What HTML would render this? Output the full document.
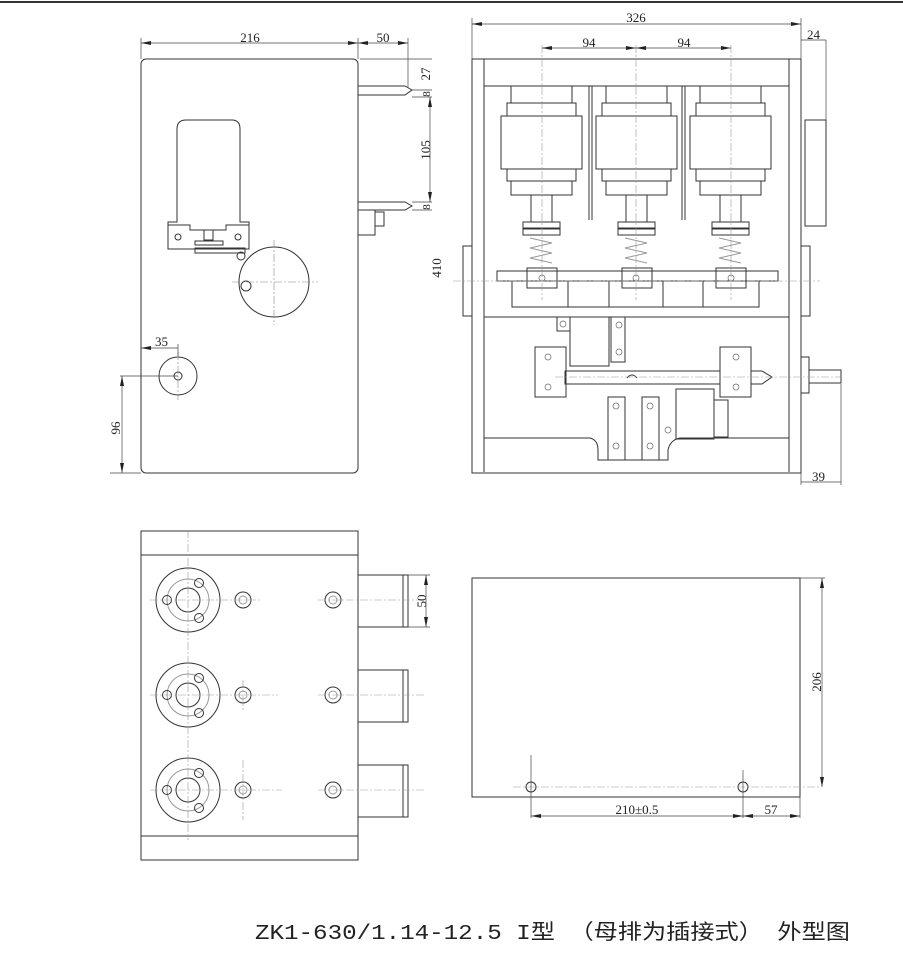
<!DOCTYPE html>
<html><head><meta charset="utf-8"><style>
html,body{margin:0;padding:0;background:#fff;}
svg{display:block;}
text{font-family:"Liberation Serif","Noto Serif CJK SC",serif;fill:#222;}
</style></head><body>
<svg width="903" height="959" viewBox="0 0 903 959" xmlns="http://www.w3.org/2000/svg">
<defs>
<marker id="a" viewBox="0 0 10 4" refX="10" refY="2" markerWidth="10" markerHeight="4" orient="auto-start-reverse" markerUnits="userSpaceOnUse"><path d="M0,0L10,2L0,4z" fill="#222"/></marker>
</defs>
<line x1="0" y1="2" x2="903" y2="2" stroke="#333" stroke-width="2"/>
<g fill="none" stroke="#333" stroke-width="1">
<rect x="141" y="59" width="217" height="414" rx="5"/>
<path d="M358,86H405L412,90L405,95H358"/>
<path d="M358,202H405L412,206L405,210H358"/>
<rect x="358" y="210" width="17" height="25"/>
<rect x="375" y="212" width="9" height="14"/>
<path d="M177,222V129Q177,120 186,120H232Q240,120 240,129V222H249V249H168V222Z"/>
<path d="M168,225H190V230H226V225H249"/>
<circle cx="178" cy="237" r="3"/><circle cx="238" cy="237" r="3"/>
<rect x="204" y="230" width="9" height="10"/>
<rect x="195" y="241" width="28" height="4"/>
<rect x="195" y="248" width="50" height="5"/>
<circle cx="241" cy="256" r="4"/>
<circle cx="274" cy="282" r="35"/>
<circle cx="246" cy="286" r="5"/>
<circle cx="178" cy="376" r="19"/>
<circle cx="178" cy="376" r="4"/>
</g>
<g fill="none" stroke="#888" stroke-width="0.6" stroke-dasharray="8,2,2,2">
<line x1="274" y1="240" x2="274" y2="325"/><line x1="232" y1="282" x2="318" y2="282"/>
<line x1="178" y1="352" x2="178" y2="400"/>
</g>
<g stroke="#444" stroke-width="0.7" fill="none">
<line x1="141" y1="43" x2="358" y2="43" marker-start="url(#a)" marker-end="url(#a)"/>
<line x1="358" y1="43" x2="408" y2="43" marker-start="url(#a)" marker-end="url(#a)"/>
<line x1="141" y1="38" x2="141" y2="59"/><line x1="358" y1="38" x2="358" y2="59"/><line x1="408" y1="38" x2="408" y2="88"/>
<line x1="360" y1="59" x2="432" y2="59"/>
<line x1="412" y1="90" x2="432" y2="90"/><line x1="412" y1="97" x2="432" y2="97"/>
<line x1="412" y1="202" x2="432" y2="202"/><line x1="412" y1="210" x2="432" y2="210"/>
<line x1="430" y1="97" x2="430" y2="202" marker-start="url(#a)" marker-end="url(#a)"/>
<line x1="141" y1="348" x2="178" y2="348" marker-start="url(#a)"/>
<line x1="178" y1="344" x2="178" y2="356"/>
<line x1="120" y1="376" x2="178" y2="376"/><line x1="110" y1="473" x2="141" y2="473"/>
<line x1="122" y1="376" x2="122" y2="473" marker-start="url(#a)" marker-end="url(#a)"/>
</g>
<text x="250" y="42" font-size="13" text-anchor="middle">216</text>
<text x="383" y="42" font-size="13" text-anchor="middle">50</text>
<text x="155" y="346" font-size="13">35</text>
<text transform="translate(430,74) rotate(-90)" font-size="13" text-anchor="middle">27</text>
<text transform="translate(430,94) rotate(-90)" font-size="11" text-anchor="middle">8</text>
<text transform="translate(430,150) rotate(-90)" font-size="13" text-anchor="middle">105</text>
<text transform="translate(430,207) rotate(-90)" font-size="11" text-anchor="middle">8</text>
<text transform="translate(441,268) rotate(-90)" font-size="13" text-anchor="middle">410</text>
<text transform="translate(120,428) rotate(-90)" font-size="13" text-anchor="middle">96</text>

<g fill="none" stroke="#333" stroke-width="1">
<rect x="472" y="59" width="329" height="414"/>
<line x1="484" y1="59" x2="484" y2="472"/><line x1="789" y1="59" x2="789" y2="472"/>
<line x1="484" y1="86" x2="789" y2="86"/>
<line x1="484" y1="317" x2="789" y2="317"/>
<rect x="463" y="246" width="9" height="70"/><rect x="801" y="246" width="9" height="70"/>
<rect x="805" y="120" width="21" height="106"/>
<line x1="589" y1="86" x2="589" y2="220"/><line x1="592" y1="86" x2="592" y2="220"/>
<line x1="682" y1="86" x2="682" y2="220"/><line x1="685" y1="86" x2="685" y2="220"/>
<g id="vi">
<rect x="511" y="86" width="61" height="17"/>
<rect x="507" y="103" width="69" height="13"/>
<rect x="501" y="116" width="81" height="53"/>
<rect x="507" y="169" width="69" height="12"/>
<rect x="511" y="181" width="61" height="14"/>
<rect x="531" y="195" width="21" height="27"/>
<rect x="523" y="222" width="37" height="6"/>
<rect x="523" y="229" width="37" height="6"/>
<path d="M530,238 L552,243 L530,248 L552,253 L530,258 L552,263" stroke="#999"/>
<rect x="527" y="268" width="30" height="20"/>
</g>
<use href="#vi" x="95"/><use href="#vi" x="189"/>
<rect x="497" y="271" width="281" height="10"/>
<rect x="512" y="281" width="247" height="26"/>
<line x1="568" y1="281" x2="568" y2="307"/><line x1="609" y1="281" x2="609" y2="307"/><line x1="663" y1="281" x2="663" y2="307"/><line x1="703" y1="281" x2="703" y2="307"/>
<rect x="570" y="317" width="39" height="49"/>
<rect x="557" y="317" width="13" height="14"/>
<rect x="611" y="317" width="14" height="45"/>
<rect x="535" y="347" width="31" height="50"/>
<rect x="720" y="347" width="31" height="50"/>
<rect x="565" y="371" width="155" height="13"/>
<path d="M627,378Q632,372 637,378"/>
<rect x="676" y="389" width="38" height="50"/>
<rect x="714" y="400" width="14" height="37"/>
<rect x="608" y="397" width="17" height="63"/>
<rect x="642" y="397" width="17" height="63"/>
<path d="M484,438H590Q598,440 598,450V460H668V450Q670,440 680,438H789"/>
<path d="M751,371H762L772,377L762,384H751"/>
<rect x="801" y="357" width="8" height="36"/>
<rect x="809" y="370" width="32" height="13"/>
</g>
<g fill="none" stroke="#666" stroke-width="0.7">
<circle cx="548" cy="357" r="3"/><circle cx="548" cy="387" r="3"/>
<circle cx="736" cy="357" r="3"/><circle cx="736" cy="387" r="3"/>
<circle cx="563" cy="324" r="3"/><circle cx="619" cy="325" r="3"/><circle cx="619" cy="352" r="3"/>
<circle cx="616" cy="406" r="3"/><circle cx="616" cy="446" r="3"/><circle cx="650" cy="406" r="3"/><circle cx="650" cy="446" r="3"/>
<circle cx="668" cy="430" r="3"/><circle cx="542" cy="278" r="3"/><circle cx="636" cy="278" r="3"/><circle cx="731" cy="278" r="3"/>
</g>
<g stroke="#999" stroke-width="0.6" stroke-dasharray="8,2,2,2" fill="none">
<line x1="542" y1="45" x2="542" y2="300"/><line x1="636" y1="45" x2="636" y2="300"/><line x1="731" y1="45" x2="731" y2="300"/>
<line x1="453" y1="281" x2="820" y2="281"/>
<line x1="555" y1="377" x2="840" y2="377"/>
</g>
<g stroke="#444" stroke-width="0.7" fill="none">
<line x1="472" y1="24" x2="801" y2="24" marker-start="url(#a)" marker-end="url(#a)"/>
<line x1="472" y1="18" x2="472" y2="59"/><line x1="801" y1="18" x2="801" y2="59"/>
<line x1="542" y1="48" x2="636" y2="48" marker-start="url(#a)" marker-end="url(#a)"/>
<line x1="636" y1="48" x2="731" y2="48" marker-start="url(#a)" marker-end="url(#a)"/>
<line x1="801" y1="40" x2="826" y2="40"/><line x1="826" y1="40" x2="826" y2="120"/>
<line x1="801" y1="473" x2="801" y2="485"/><line x1="841" y1="384" x2="841" y2="485"/>
<line x1="801" y1="482" x2="841" y2="482"/>
</g>
<text x="636" y="22" font-size="13" text-anchor="middle">326</text>
<text x="589" y="47" font-size="13" text-anchor="middle">94</text>
<text x="684" y="47" font-size="13" text-anchor="middle">94</text>
<text x="807" y="39" font-size="13">24</text>
<text x="812" y="481" font-size="13">39</text>

<g fill="none" stroke="#333" stroke-width="1">
<rect x="141" y="531" width="217" height="329"/>
<line x1="141" y1="555" x2="358" y2="555"/><line x1="141" y1="836" x2="358" y2="836"/>
<g id="fl">
<circle cx="188" cy="600" r="32"/>
<circle cx="188" cy="600" r="21" stroke="#999"/>
<circle cx="188" cy="600" r="12"/>
<circle cx="199" cy="583" r="4.5"/><circle cx="199" cy="618" r="4.5"/><circle cx="167" cy="600" r="4.5"/>
<circle cx="243" cy="600" r="8"/><circle cx="243" cy="600" r="4" stroke="#999"/>
<circle cx="333" cy="600" r="8"/><circle cx="333" cy="600" r="4" stroke="#999"/>
<rect x="358" y="575" width="50" height="52"/><line x1="403" y1="575" x2="403" y2="627"/>
</g>
<use href="#fl" y="95"/><use href="#fl" y="190"/>
</g>
<g stroke="#999" stroke-width="0.6" stroke-dasharray="8,2,2,2" fill="none">
<line x1="188" y1="530" x2="188" y2="840"/>
<line x1="150" y1="600" x2="260" y2="600"/><line x1="150" y1="695" x2="278" y2="695"/><line x1="150" y1="790" x2="282" y2="790"/>
<line x1="318" y1="600" x2="425" y2="600"/><line x1="318" y1="695" x2="425" y2="695"/><line x1="318" y1="790" x2="425" y2="790"/>
<line x1="243" y1="680" x2="243" y2="710"/><line x1="243" y1="760" x2="243" y2="820"/>
</g>
<g stroke="#444" stroke-width="0.7" fill="none">
<line x1="408" y1="575" x2="430" y2="575"/><line x1="408" y1="627" x2="430" y2="627"/>
<line x1="426" y1="575" x2="426" y2="627" marker-start="url(#a)" marker-end="url(#a)"/>
</g>
<text transform="translate(426,601) rotate(-90)" font-size="13" text-anchor="middle">50</text>

<g fill="none" stroke="#333" stroke-width="1">
<rect x="472" y="578" width="328" height="219"/>
<circle cx="531" cy="787" r="5"/><circle cx="743" cy="787" r="5"/>
</g>
<g stroke="#999" stroke-width="0.6" stroke-dasharray="8,2,2,2" fill="none">
<line x1="513" y1="787" x2="820" y2="787"/>
</g>
<g stroke="#444" stroke-width="0.7" fill="none">
<line x1="531" y1="755" x2="531" y2="818"/><line x1="743" y1="770" x2="743" y2="818"/><line x1="800" y1="797" x2="800" y2="818"/>
<line x1="531" y1="816" x2="743" y2="816" marker-start="url(#a)" marker-end="url(#a)"/>
<line x1="743" y1="816" x2="800" y2="816" marker-start="url(#a)" marker-end="url(#a)"/>
<line x1="800" y1="578" x2="825" y2="578"/>
<line x1="822" y1="578" x2="822" y2="787" marker-start="url(#a)" marker-end="url(#a)"/>
</g>
<text x="637" y="814" font-size="13" text-anchor="middle">210±0.5</text>
<text x="771" y="814" font-size="13" text-anchor="middle">57</text>
<text transform="translate(821,682) rotate(-90)" font-size="13" text-anchor="middle">206</text>

<text x="255" y="939" font-size="21" textLength="595" lengthAdjust="spacingAndGlyphs" style="font-family:'Liberation Mono','Noto Sans CJK SC',monospace">ZK1-630/1.14-12.5 I型 （母排为插接式） 外型图</text>
</svg>
</body></html>
